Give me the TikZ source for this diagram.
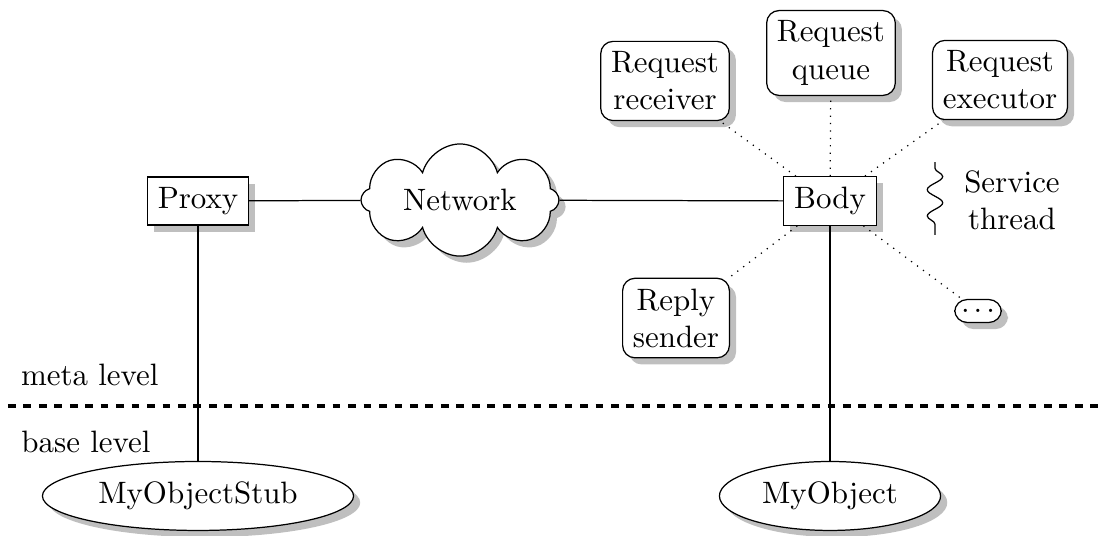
\documentclass[tikz,border=0pt]{standalone}
\usepackage{tikz}
\usetikzlibrary{shapes.geometric,shapes.symbols,shadows,decorations.pathmorphing}

\tikzset{
    meta/.style={draw, fill=white, drop shadow},
    helper/.style={draw, fill=white, rounded corners, drop shadow, align=center},
    base/.style={draw, fill=white, ellipse, drop shadow, minimum height=0.7cm},
}

\begin{document}
\begin{tikzpicture}

    % 固定画布大小
    \useasboundingbox (0, 0) rectangle (12.523, -6.08);

    % 定义主要位置
    \coordinate (P) at (2.25, -2.284);
    \coordinate (N) at (5.227, -2.273);
    \coordinate (B) at (9.432, -2.284);

    % 元层对象
    \node[meta] (proxy) at (P) {Proxy};
    \node[meta, cloud, cloud puffs=8, aspect=3.3, inner xsep=4pt, inner ysep=0.5pt] (net) at (N) {Network};
    \node[meta] (body) at (B) {Body};

    % Body 周围的组件
    \node[helper] (recv) at (7.557, -0.920) {Request\\receiver};
    \node[helper] (queue) at (9.443, -0.602) {Request\\queue};
    \node[helper] (exec) at (11.364, -0.909) {Request\\executor};
    \node[helper] (reply) at (7.682, -3.614) {Reply\\sender};
    \node[helper, minimum width=0.53cm, minimum height=0.26cm, inner sep=1pt] (more) at (11.114, -3.534) {.\kern1.3pt.\kern1.3pt.};

    % 服务线程
    \coordinate (T1) at (10.625, -1.842);
    \coordinate (T2) at (10.625, -2.670);
    \draw[decorate, decoration={snake, amplitude=2.5pt, segment length=8.5pt, pre length=2pt}] (T1) -- (T2);
    \node[align=center] (thread) at (11.5, -2.273) {Service\\thread};

    % 基层对象
    \node[base, minimum width=3.5cm] (stub) at (2.25, -5.636) {MyObjectStub};
    \node[base, minimum width=2.45cm] (obj) at (9.432, -5.636) {MyObject};

    % 层次分界线
    \coordinate (L1) at (0.09, -4.614);
    \coordinate (L2) at (12.5, -4.614);
    \draw[very thick, dash pattern=on 2.5pt off 2.5pt] (L1) -- (L2);
    \node[anchor=west] (metalabel) at (0.115, -4.261) {meta level};
    \node[anchor=west] (baselabel) at (0.12, -5.023) {base level};

    % 连接线
    \draw (proxy) -- (net);
    \draw (net) -- (body);
    \draw (proxy) -- (stub);
    \draw (body) -- (obj);

    % 虚线连接
    \draw[dotted] (body) -- (recv);
    \draw[dotted] (body) -- (queue);
    \draw[dotted] (body) -- (exec);
    \draw[dotted] (body) -- (reply);
    \draw[dotted] (body) -- (more);

\end{tikzpicture}
\end{document}
